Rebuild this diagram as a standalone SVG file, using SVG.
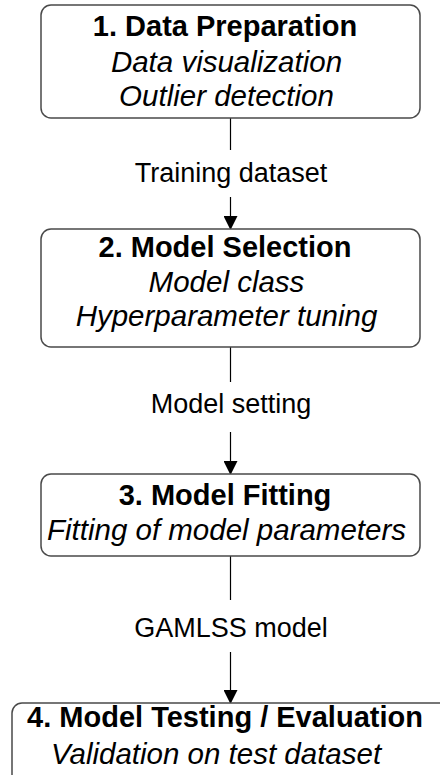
<svg xmlns="http://www.w3.org/2000/svg" width="440" height="775" viewBox="0 0 440 775">
<defs>
<marker id="ah" viewBox="0 0 14 14" markerWidth="14" markerHeight="14" refX="13" refY="7" orient="auto" markerUnits="userSpaceOnUse">
<path d="M0,0 L14,7 L0,14 Z" fill="#000"/>
</marker>
<style>
.box{fill:#fff;stroke:#4a4a4a;stroke-width:1.5}
.t{font-family:"Liberation Sans",Arial,sans-serif;font-size:29px;font-weight:bold;fill:#000;text-anchor:middle}
.s{font-family:"Liberation Sans",Arial,sans-serif;font-size:29.5px;font-style:italic;fill:#000;text-anchor:middle}
.l{font-family:"Liberation Sans",Arial,sans-serif;font-size:27px;fill:#000;text-anchor:middle}
.c{stroke:#000;stroke-width:1.2;fill:none}
</style>
</defs>
<rect width="440" height="775" fill="#fff"/>
<g id="connectors">
<line class="c" x1="230.5" y1="118" x2="230.5" y2="150"/>
<line class="c" x1="230.5" y1="197" x2="230.5" y2="229" marker-end="url(#ah)"/>
<text class="l" x="231" y="182">Training dataset</text>
<line class="c" x1="230.5" y1="347" x2="230.5" y2="382"/>
<line class="c" x1="230.5" y1="432" x2="230.5" y2="474" marker-end="url(#ah)"/>
<text class="l" x="231" y="413">Model setting</text>
<line class="c" x1="230.5" y1="556" x2="230.5" y2="600"/>
<line class="c" x1="230.5" y1="652" x2="230.5" y2="703" marker-end="url(#ah)"/>
<text class="l" x="231" y="637">GAMLSS model</text>
</g>
<g id="node1">
<rect class="box" x="41" y="5" width="379" height="113" rx="10"/>
<text class="t" x="225" y="36">1. Data Preparation</text>
<text class="s" x="226.5" y="72">Data visualization</text>
<text class="s" x="226.5" y="106">Outlier detection</text>
</g>
<g id="node2">
<rect class="box" x="41" y="229" width="379" height="118" rx="10"/>
<text class="t" x="225" y="257">2. Model Selection</text>
<text class="s" x="226.5" y="292">Model class</text>
<text class="s" x="226.5" y="326">Hyperparameter tuning</text>
</g>
<g id="node3">
<rect class="box" x="41" y="474" width="379" height="82" rx="10"/>
<text class="t" x="225" y="505">3. Model Fitting</text>
<text class="s" x="226.5" y="540">Fitting of model parameters</text>
</g>
<g id="node4">
<rect class="box" x="12" y="703" width="437" height="100" rx="10"/>
<text class="t" x="225" y="727">4. Model Testing / Evaluation</text>
<text class="s" x="216" y="764">Validation on test dataset</text>
</g>
</svg>
